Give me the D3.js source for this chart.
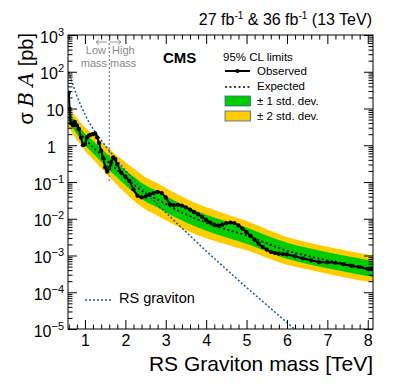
<!DOCTYPE html>
<html>
<head>
<meta charset="utf-8">
<script src="https://cdn.jsdelivr.net/npm/d3@7"></script>
<style>
  body { margin: 0; background: #fff; }
  text { font-family: "Liberation Sans", Arial, sans-serif; }
</style>
</head>
<body>
<svg class="plot" width="399" height="387"></svg>
<script>
// observed 95% CL limit [pb]
const obsMass = [0.6,0.62,0.65,0.7,0.75,0.8,0.85,0.9,0.95,1.0,1.05,1.1,1.15,1.2,1.25,1.3,1.35,1.4,1.45,1.5,
  1.55,1.6,1.65,1.7,1.75,1.8,1.9,2.0,2.1,2.2,2.3,2.4,2.5,2.6,2.7,2.8,2.9,3.0,3.1,3.2,3.3,3.4,3.5,3.6,3.7,3.8,
  3.9,4.0,4.1,4.2,4.3,4.4,4.5,4.6,4.7,4.8,4.9,5.0,5.1,5.2,5.3,5.4,5.5,5.6,5.7,5.8,5.9,6.0,6.2,6.4,6.6,6.8,
  7.0,7.2,7.4,7.6,7.8,8.0,8.1];
const observed = [27,10,4.0,3.5,4.3,3.5,2.8,1.6,1.0,1.05,1.65,1.85,1.95,2.0,2.1,1.65,1.15,0.71,0.45,0.25,
  0.19,0.24,0.35,0.47,0.42,0.30,0.18,0.14,0.107,0.063,0.042,0.038,0.040,0.046,0.050,0.054,0.050,0.038,0.025,
  0.0234,0.024,0.0229,0.0204,0.0178,0.0151,0.0132,0.0112,0.0093,0.0079,0.0069,0.0065,0.0069,0.0076,0.0079,
  0.0076,0.0066,0.0054,0.0043,0.0034,0.0027,0.0021,0.0017,0.00145,0.00126,0.00117,0.00112,0.0011,0.00107,
  0.00095,0.00083,0.00074,0.00066,0.00066,0.00063,0.00058,0.00052,0.00048,0.00043,0.00043];

// expected limit and bands [pb]
const expMass = [0.6,0.7,0.8,0.9,1.0,1.2,1.4,1.6,1.8,2.0,2.25,2.5,2.75,3.0,3.5,4.0,4.5,5.0,5.5,6.0,6.5,7.0,7.5,8.0,8.12];
const expected = [5.6,4.0,2.8,2.0,1.48,0.89,0.55,0.33,0.21,0.132,0.078,0.049,0.0355,0.0251,0.0132,0.0078,
  0.0051,0.0035,0.00214,0.00135,0.00098,0.00074,0.00058,0.00046,0.00044];
const exp1Up = [7.8,5.5,4.0,2.8,2.1,1.32,0.83,0.51,0.33,0.21,0.129,0.081,0.059,0.0417,0.0219,0.0129,
  0.0085,0.0058,0.0035,0.00224,0.00162,0.00123,0.00095,0.00076,0.00072];
const exp1Down = [4.1,2.9,2.0,1.41,1.02,0.60,0.36,0.21,0.132,0.081,0.047,0.0295,0.0214,0.0151,0.0079,0.0047,
  0.0031,0.0021,0.00129,0.00081,0.00059,0.00045,0.00035,0.000275,0.00026];
const exp2Up = [10.7,7.6,5.6,4.0,3.1,1.95,1.26,0.79,0.52,0.35,0.214,0.135,0.098,0.069,0.0355,0.0204,
  0.0132,0.0087,0.0052,0.0032,0.0023,0.00174,0.00135,0.00107,0.00102];
const exp2Down = [2.95,2.1,1.41,1.0,0.71,0.41,0.24,0.138,0.083,0.050,0.028,0.0178,0.0129,0.0091,0.0049,0.00295,
  0.0020,0.00138,0.00087,0.00056,0.00042,0.00032,0.000245,0.000195,0.000186];

// RS graviton cross section [pb]
const gravMass = [0.6,0.7,0.8,0.9,1.0,1.2,1.4,1.6,1.8,2.0,2.2,2.4,2.6,2.8,3.0,3.5,4.0,4.5,5.0,5.5,6.0,6.5];
const gravXsec = [100,45,22,12,6.9,2.8,1.38,0.72,0.38,0.21,0.117,0.068,0.040,0.024,0.0148,0.0044,0.00132,
  0.00042,0.000135,4.5e-5,1.5e-5,5e-6];

const xTicks = [1,2,3,4,5,6,7,8];
const yDecades = [-5,-4,-3,-2,-1,0,1,2,3];

const fL = 68, fR = 373, fT = 35, fB = 329;
const svg = d3.select('.plot');

const x = d3.scaleLinear().domain([0.58, 8.13]).range([fL, fR]);
const y = d3.scaleLog().domain([1e-5, 1e3]).range([fB, fT]);

svg.append('clipPath').attr('id', 'clip')
  .append('rect').attr('x', fL).attr('y', fT).attr('width', fR - fL).attr('height', fB - fT);

const g = svg.append('g').attr('clip-path', 'url(#clip)');

const band = (lo, hi) => d3.area()
  .x((d, i) => x(expMass[i]))
  .y0((d, i) => y(lo[i]))
  .y1((d, i) => y(hi[i]))
  .curve(d3.curveMonotoneX)(expMass);

g.append('path').attr('d', band(exp2Down, exp2Up)).attr('fill', '#ffcc00');
g.append('path').attr('d', band(exp1Down, exp1Up)).attr('fill', '#00cc00');

const line = (xs, ys, curve) => d3.line()
  .x((d, i) => x(xs[i]))
  .y((d, i) => y(ys[i]))
  .curve(curve)(xs);

g.append('path').attr('d', line(expMass, expected, d3.curveMonotoneX))
  .attr('fill', 'none').attr('stroke', '#000').attr('stroke-width', 1.6).attr('stroke-dasharray', '2,2.5');

g.append('path').attr('d', line(gravMass, gravXsec, d3.curveMonotoneX))
  .attr('fill', 'none').attr('stroke', '#1f5790').attr('stroke-width', 1.5).attr('stroke-dasharray', '2,2');

g.append('path').attr('d', line(obsMass, observed, d3.curveLinear))
  .attr('fill', 'none').attr('stroke', '#000').attr('stroke-width', 2);

g.selectAll('circle.obs').data(obsMass).enter().append('circle')
  .attr('class', 'obs')
  .attr('cx', d => x(d))
  .attr('cy', (d, i) => y(observed[i]))
  .attr('r', 2.1)
  .attr('fill', '#000');

// low / high mass separation
svg.append('line')
  .attr('x1', x(1.6)).attr('x2', x(1.6))
  .attr('y1', y(1e3)).attr('y2', y(1e-1))
  .attr('stroke', '#666').attr('stroke-width', 1).attr('stroke-dasharray', '2,2');

const gray = '#8a8a8a';
svg.append('path')
  .attr('d', 'M107,42H96M99,39.5L96,42L99,44.5M110,42H121M118,39.5L121,42L118,44.5')
  .attr('fill', 'none').attr('stroke', gray).attr('stroke-width', 0.9);
[['Low', 'end', 106, 54], ['mass', 'end', 107, 66.5], ['High', 'start', 112, 54], ['mass', 'start', 110, 66.5]]
  .forEach(([t, a, tx, ty]) => {
    svg.append('text').attr('x', tx).attr('y', ty).attr('text-anchor', a)
      .attr('font-size', 11).attr('fill', gray).text(t);
  });

// axes: ticks inside the frame
const minorX = d3.range(0.6, 8.11, 0.2).filter(v => Math.abs(v - Math.round(v)) > 0.01);
const minorY = [];
yDecades.slice(0, -1).forEach(k => { for (let j = 2; j <= 9; j++) minorY.push(j * Math.pow(10, k)); });
const majorY = yDecades.map(k => Math.pow(10, k));

const axisG = (axis, tr) => {
  const a = svg.append('g').attr('transform', tr).call(axis);
  a.select('.domain').remove();
  a.selectAll('line').attr('stroke', '#000');
  return a;
};

const xb = axisG(d3.axisBottom(x).tickValues(xTicks).tickSizeInner(-9).tickSizeOuter(0).tickPadding(6), `translate(0,${fB})`);
xb.selectAll('text').attr('font-size', 16).attr('font-family', '"Liberation Sans", Arial, sans-serif').attr('fill', '#000');
axisG(d3.axisBottom(x).tickValues(minorX).tickSizeInner(-4.5).tickSizeOuter(0).tickFormat(''), `translate(0,${fB})`);
axisG(d3.axisTop(x).tickValues(xTicks).tickSizeInner(-9).tickSizeOuter(0).tickFormat(''), `translate(0,${fT})`);
axisG(d3.axisTop(x).tickValues(minorX).tickSizeInner(-4.5).tickSizeOuter(0).tickFormat(''), `translate(0,${fT})`);

axisG(d3.axisLeft(y).tickValues(majorY).tickSizeInner(-9).tickSizeOuter(0).tickFormat(''), `translate(${fL},0)`);
axisG(d3.axisLeft(y).tickValues(minorY).tickSizeInner(-4.5).tickSizeOuter(0).tickFormat(''), `translate(${fL},0)`);
axisG(d3.axisRight(y).tickValues(majorY).tickSizeInner(-9).tickSizeOuter(0).tickFormat(''), `translate(${fR},0)`);
axisG(d3.axisRight(y).tickValues(minorY).tickSizeInner(-4.5).tickSizeOuter(0).tickFormat(''), `translate(${fR},0)`);

// y tick labels with superscripts
yDecades.forEach(k => {
  const t = svg.append('text')
    .attr('x', k === 0 ? 56 : 64)
    .attr('y', y(Math.pow(10, k)) + 7.5)
    .attr('text-anchor', 'end')
    .attr('font-size', 16);
  if (k === 0) t.text('1');
  else if (k === 1) t.text('10');
  else {
    t.append('tspan').text('10');
    t.append('tspan').attr('dy', -7).attr('font-size', 11).text(k < 0 ? '\u2212' + (-k) : k);
  }
});

svg.append('rect')
  .attr('x', fL).attr('y', fT).attr('width', fR - fL).attr('height', fB - fT)
  .attr('fill', 'none').attr('stroke', '#000').attr('stroke-width', 1);

// titles
svg.append('text').attr('x', fR).attr('y', 371).attr('text-anchor', 'end')
  .attr('font-size', 21).text('RS Graviton mass [TeV]');

const yt = svg.append('text')
  .attr('transform', 'translate(33,33) rotate(-90)')
  .attr('text-anchor', 'end').attr('font-size', 20);
yt.append('tspan').text('\u03c3 ');
yt.append('tspan').attr('font-style', 'italic').attr('font-family', '"DejaVu Serif", serif').text('B');
yt.append('tspan').text(' ');
yt.append('tspan').attr('font-style', 'italic').attr('font-family', '"DejaVu Serif", serif').text('A');
yt.append('tspan').text(' [pb]');

const lumi = svg.append('text').attr('x', 372).attr('y', 25).attr('text-anchor', 'end').attr('font-size', 16);
lumi.append('tspan').text('27 fb');
lumi.append('tspan').attr('dy', -6).attr('font-size', 10).text('-1');
lumi.append('tspan').attr('dy', 6).text(' & 36 fb');
lumi.append('tspan').attr('dy', -6).attr('font-size', 10).text('-1');
lumi.append('tspan').attr('dy', 6).text(' (13 TeV)');

svg.append('text').attr('x', 163).attr('y', 63).attr('font-size', 15).attr('font-weight', 'bold').text('CMS');

// legend
const lg = svg.append('g');
const lfs = 11.5;
lg.append('text').attr('x', 223).attr('y', 61).attr('font-size', lfs).text('95% CL limits');
lg.append('line').attr('x1', 225).attr('x2', 250).attr('y1', 71).attr('y2', 71).attr('stroke', '#000').attr('stroke-width', 2);
lg.append('circle').attr('cx', 237.5).attr('cy', 71).attr('r', 2.1).attr('fill', '#000');
lg.append('text').attr('x', 257).attr('y', 75).attr('font-size', lfs).text('Observed');
lg.append('line').attr('x1', 225).attr('x2', 250).attr('y1', 87).attr('y2', 87)
  .attr('stroke', '#000').attr('stroke-width', 1.6).attr('stroke-dasharray', '2,2.5');
lg.append('text').attr('x', 257).attr('y', 90).attr('font-size', lfs).text('Expected');
lg.append('rect').attr('x', 225).attr('y', 96).attr('width', 25.5).attr('height', 10)
  .attr('fill', '#00cc00').attr('stroke', '#3a62a8').attr('stroke-width', 0.8);
lg.append('text').attr('x', 257).attr('y', 105).attr('font-size', lfs).text('\u00b1 1 std. dev.');
lg.append('rect').attr('x', 225).attr('y', 111).attr('width', 25.5).attr('height', 10)
  .attr('fill', '#ffcc00').attr('stroke', '#3a62a8').attr('stroke-width', 0.8);
lg.append('text').attr('x', 257).attr('y', 120).attr('font-size', lfs).text('\u00b1 2 std. dev.');

lg.append('line').attr('x1', 85).attr('x2', 113).attr('y1', 300).attr('y2', 300)
  .attr('stroke', '#1f5790').attr('stroke-width', 1.5).attr('stroke-dasharray', '2,2');
lg.append('text').attr('x', 119).attr('y', 303).attr('font-size', 14.5).text('RS graviton');
</script>
</body>
</html>
